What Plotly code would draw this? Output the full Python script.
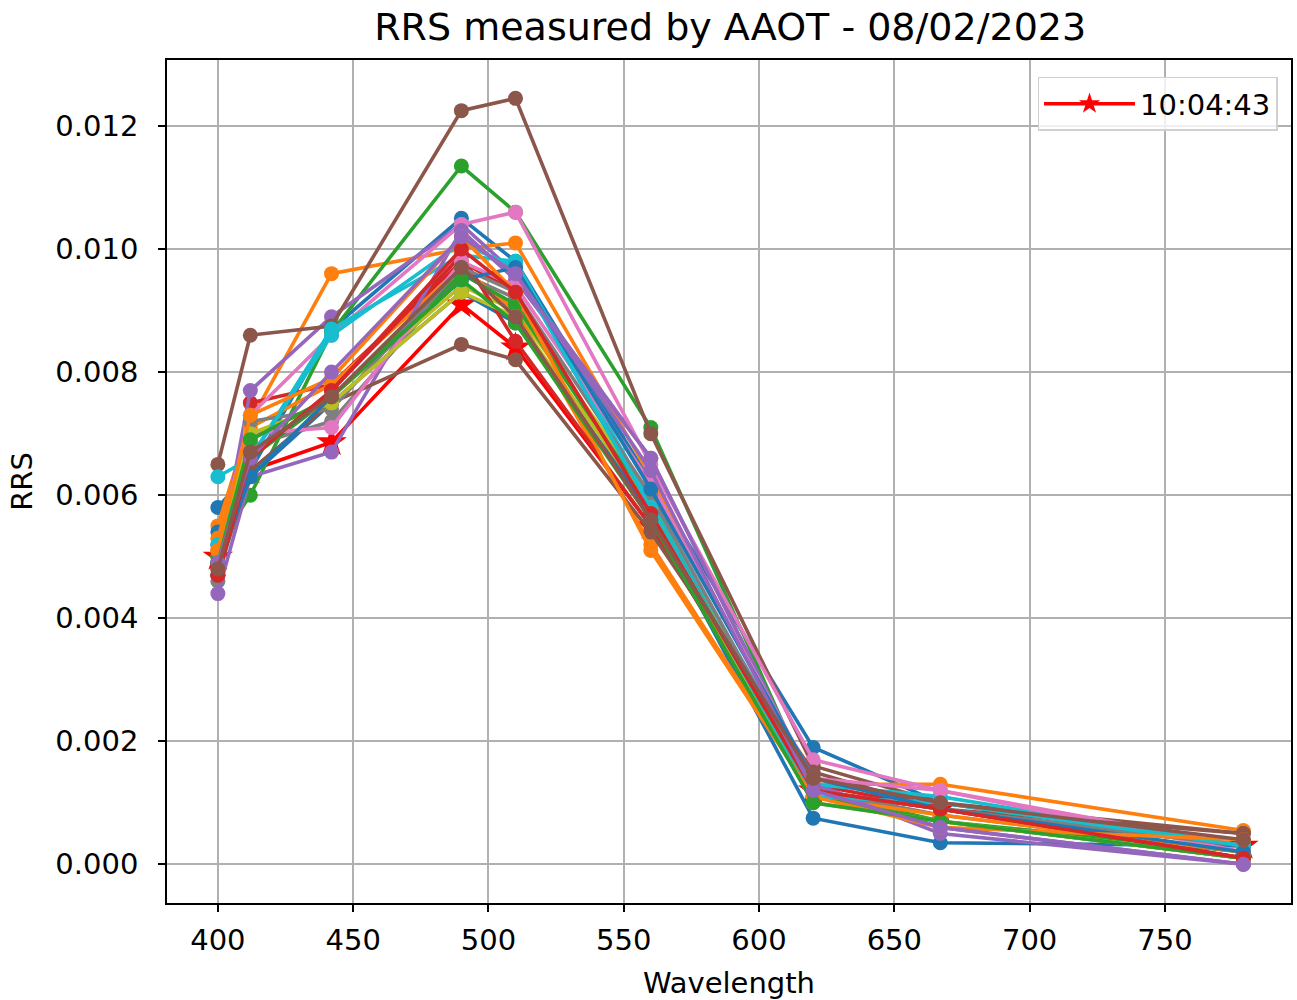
import plotly.graph_objects as go

wavelengths = [400, 412, 442, 490, 510, 560, 620, 667, 779]

highlight_label = "10:04:43"
highlight_rrs = [0.0050, 0.0064, 0.00686, 0.0091, 0.0084, 0.0055, 0.0012, 0.0009, 0.0003]

tab10 = ["#1f77b4", "#ff7f0e", "#2ca02c", "#d62728", "#9467bd",
         "#8c564b", "#e377c2", "#7f7f7f", "#bcbd22", "#17becf"]

rrs_blue_a   = [0.0058, 0.0064, 0.0087, 0.0105, 0.0098, 0.0062, 0.0019, 0.0010, 0.0003]
rrs_orange_a = [0.0055, 0.0072, 0.0096, 0.0100, 0.0101, 0.0063, 0.0013, 0.0013, 0.00055]
rrs_green_a  = [0.0052, 0.0060, 0.00865, 0.01135, 0.0106, 0.0071, 0.0012, 0.0007, 0.0002]
rrs_red_a    = [0.0047, 0.0075, 0.0078, 0.0098, 0.0093, 0.0056, 0.0013, 0.0009, 0.0001]
rrs_purple_a = [0.0049, 0.0077, 0.0089, 0.0104, 0.0096, 0.0066, 0.0013, 0.0006, 0.0000]
rrs_brown_a  = [0.0065, 0.0086, 0.00875, 0.01225, 0.01245, 0.0070, 0.0016, 0.0010, 0.0005]
rrs_pink_a   = [0.0052, 0.0073, 0.0086, 0.0104, 0.0106, 0.0065, 0.0017, 0.0012, 0.0003]
rrs_gray_a   = [0.0046, 0.0068, 0.0072, 0.0096, 0.0092, 0.0058, 0.0012, 0.0008, 0.0002]
rrs_olive_a  = [0.0050, 0.0069, 0.0076, 0.0094, 0.0090, 0.0060, 0.0011, 0.0007, 0.0001]
rrs_cyan_a   = [0.0063, 0.0066, 0.0087, 0.0099, 0.0098, 0.0059, 0.0013, 0.0011, 0.0003]
rrs_blue_b   = [0.0054, 0.0063, 0.0075, 0.0093, 0.0088, 0.0057, 0.00075, 0.00035, 0.0003]
rrs_orange_b = [0.0053, 0.0071, 0.0078, 0.0097, 0.0090, 0.0052, 0.0011, 0.0008, 0.0002]
rrs_green_b  = [0.0050, 0.0066, 0.0076, 0.0096, 0.0091, 0.0058, 0.0011, 0.0007, 0.0001]
rrs_red_b    = [0.0048, 0.0066, 0.0077, 0.0099, 0.0085, 0.0055, 0.0012, 0.0009, 0.0001]
rrs_purple_b = [0.0044, 0.0063, 0.0067, 0.0103, 0.0095, 0.0066, 0.0013, 0.0005, 0.0000]
rrs_brown_b  = [0.0047, 0.0064, 0.0075, 0.00845, 0.0082, 0.0054, 0.0015, 0.0009, 0.0005]
rrs_pink_b   = [0.0051, 0.0070, 0.0071, 0.0098, 0.0094, 0.0062, 0.0014, 0.0012, 0.0002]
rrs_gray_b   = [0.0047, 0.0072, 0.0074, 0.0097, 0.0093, 0.0060, 0.0012, 0.0009, 0.0003]
rrs_olive_b  = [0.0051, 0.0070, 0.0075, 0.0093, 0.0089, 0.0058, 0.0010, 0.0007, 0.0001]
rrs_cyan_b   = [0.0052, 0.0066, 0.0086, 0.0101, 0.0097, 0.0058, 0.0011, 0.0010, 0.0003]
rrs_blue_c   = [0.0049, 0.0063, 0.0076, 0.0095, 0.0097, 0.0061, 0.0014, 0.0009, 0.0002]
rrs_orange_c = [0.0051, 0.0073, 0.0079, 0.0102, 0.0093, 0.0051, 0.0011, 0.0006, 0.0004]
rrs_green_c  = [0.0049, 0.0069, 0.0076, 0.0095, 0.0088, 0.0056, 0.0010, 0.0007, 0.0001]
rrs_red_c    = [0.0047, 0.0066, 0.0077, 0.0100, 0.0093, 0.0057, 0.0012, 0.0009, 0.0001]
rrs_purple_c = [0.0049, 0.0066, 0.0080, 0.0102, 0.0096, 0.0064, 0.0012, 0.0006, 0.0000]
rrs_brown_c  = [0.0048, 0.0067, 0.0076, 0.0097, 0.0089, 0.0056, 0.0014, 0.0010, 0.0004]

series = [rrs_blue_a, rrs_orange_a, rrs_green_a, rrs_red_a, rrs_purple_a,
          rrs_brown_a, rrs_pink_a, rrs_gray_a, rrs_olive_a, rrs_cyan_a,
          rrs_blue_b, rrs_orange_b, rrs_green_b, rrs_red_b, rrs_purple_b,
          rrs_brown_b, rrs_pink_b, rrs_gray_b, rrs_olive_b, rrs_cyan_b,
          rrs_blue_c, rrs_orange_c, rrs_green_c, rrs_red_c, rrs_purple_c,
          rrs_brown_c]

fig = go.Figure()

fig.add_trace(go.Scatter(
    x=wavelengths, y=highlight_rrs, mode="lines+markers", name=highlight_label,
    line=dict(color="#ff0000", width=3.6),
    marker=dict(symbol="star", size=23, color="#ff0000", line=dict(width=0)),
    showlegend=True,
))

for i, s in enumerate(series):
    c = tab10[i % 10]
    fig.add_trace(go.Scatter(
        x=wavelengths, y=s, mode="lines+markers",
        line=dict(color=c, width=3.6),
        marker=dict(symbol="circle", size=15, color=c, line=dict(width=0)),
        showlegend=False,
    ))

font_family = "DejaVu Sans"
axis_common = dict(
    showgrid=True, gridcolor="#b0b0b0", gridwidth=1.6,
    showline=True, linecolor="black", linewidth=1.7, mirror=True,
    ticks="outside", ticklen=7, tickwidth=1.7, tickcolor="black",
    zeroline=False,
    tickfont=dict(family=font_family, size=29, color="black"),
)

fig.update_layout(
    width=1297, height=1000,
    paper_bgcolor="white", plot_bgcolor="white",
    margin=dict(l=167, r=4, t=60, b=97),
    font=dict(family=font_family, color="black"),
    title=dict(text="RRS measured by AAOT - 08/02/2023",
               font=dict(family=font_family, size=38, color="black"),
               x=0.563, xanchor="center", xref="container",
               y=0.973, yanchor="middle", yref="container"),
    xaxis=dict(axis_common, range=[381.2, 796.6], tickvals=[400, 450, 500, 550, 600, 650, 700, 750],
               ticklabelstandoff=3,
               title=dict(text="Wavelength", font=dict(family=font_family, size=29, color="black"), standoff=18)),
    yaxis=dict(axis_common, range=[-0.000629, 0.013073],
               tickvals=[0.0, 0.002, 0.004, 0.006, 0.008, 0.010, 0.012],
               ticktext=["0.000", "0.002", "0.004", "0.006", "0.008", "0.010", "0.012"],
               ticklabelstandoff=14,
               title=dict(text="RRS", font=dict(family=font_family, size=29, color="black"), standoff=14)),
    legend=dict(x=0.988, y=0.98, xanchor="right", yanchor="top",
                bgcolor="rgba(255,255,255,0.8)", bordercolor="#d0d0d0", borderwidth=1.5,
                font=dict(family=font_family, size=29, color="black"),
                itemwidth=91),
)

fig.write_html("out.html")
